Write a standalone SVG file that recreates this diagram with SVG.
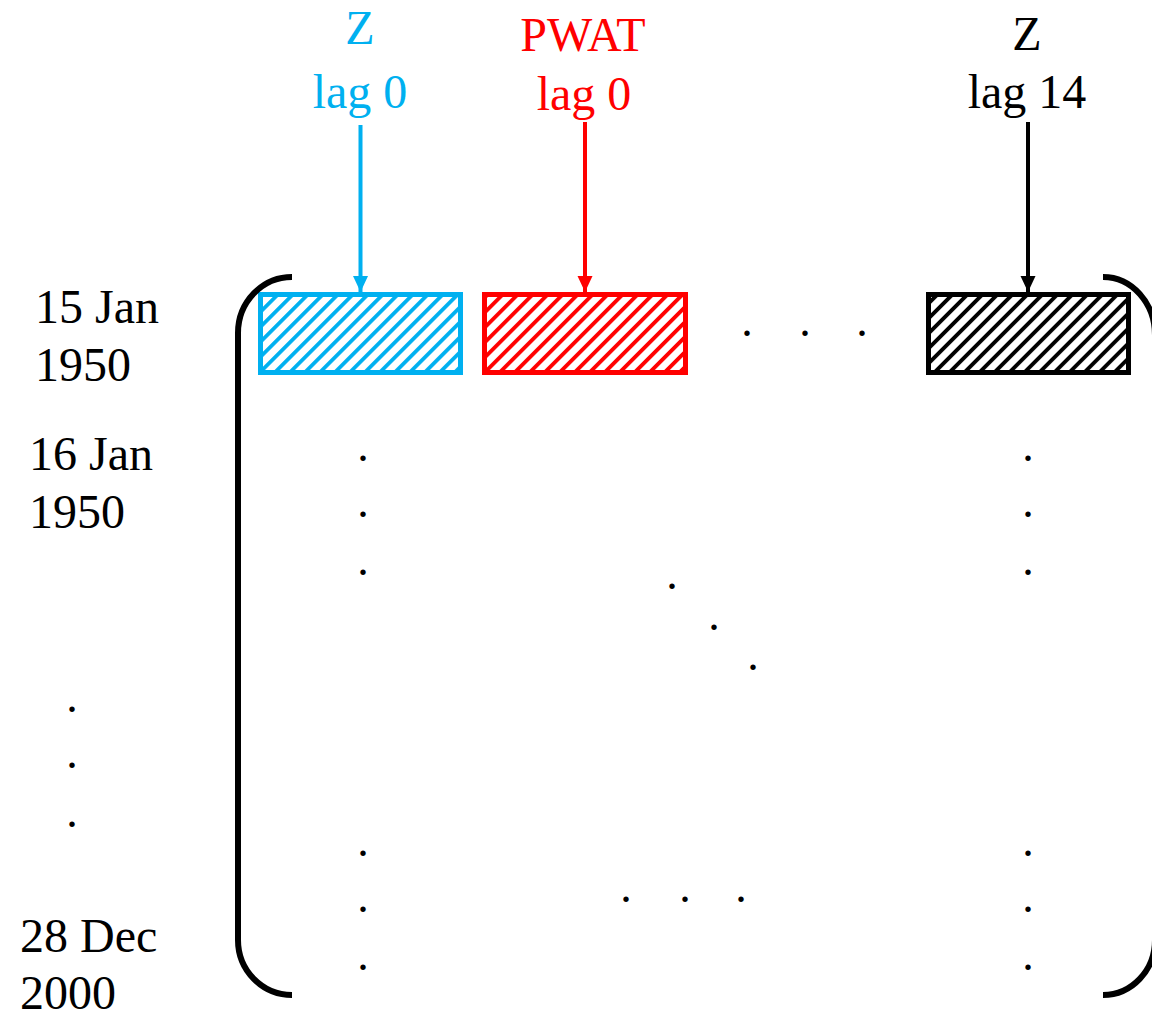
<svg xmlns="http://www.w3.org/2000/svg" width="1152" height="1016" viewBox="0 0 1152 1016">
<style>
text{font-family:"Liberation Serif","Times New Roman",serif;font-size:48px}
.c{text-anchor:middle}
.blue{fill:#00B0F0}.red{fill:#FF0000}.blk{fill:#000}
.dot{font-size:46px;text-anchor:middle;fill:#000}
.br{fill:none;stroke:#000;stroke-width:6;stroke-linecap:butt}
</style>
<defs>
<pattern id="hb" patternUnits="userSpaceOnUse" width="10.6" height="10.6" patternTransform="rotate(45)"><rect width="3.8" height="10.6" fill="#00B0F0"/></pattern>
<pattern id="hr" patternUnits="userSpaceOnUse" width="10.6" height="10.6" patternTransform="rotate(45)"><rect width="3.8" height="10.6" fill="#FF0000"/></pattern>
<pattern id="hk" patternUnits="userSpaceOnUse" width="10.6" height="10.6" patternTransform="rotate(45)"><rect width="3.8" height="10.6" fill="#000"/></pattern>
<marker id="ab" markerUnits="userSpaceOnUse" markerWidth="18" markerHeight="18" refX="16" refY="9" orient="auto"><path d="M0,1.5 L16,9 L0,16.5 z" fill="#00B0F0"/></marker>
<marker id="ar" markerUnits="userSpaceOnUse" markerWidth="18" markerHeight="18" refX="16" refY="9" orient="auto"><path d="M0,1.5 L16,9 L0,16.5 z" fill="#FF0000"/></marker>
<marker id="ak" markerUnits="userSpaceOnUse" markerWidth="18" markerHeight="18" refX="16" refY="9" orient="auto"><path d="M0,1.5 L16,9 L0,16.5 z" fill="#000"/></marker>
</defs>
<rect width="1152" height="1016" fill="#fff"/>

<g id="label-z0">
<text class="c blue" x="360" y="44">Z</text>
<text class="c blue" x="360" y="108">lag 0</text>
</g>
<g id="label-pwat0">
<text class="c red" x="583" y="51">PWAT</text>
<text class="c red" x="584" y="110">lag 0</text>
</g>
<g id="label-z14">
<text class="c blk" x="1027" y="50">Z</text>
<text class="c blk" x="1027" y="108">lag 14</text>
</g>

<g id="connectors">
<line x1="360.5" y1="125" x2="360.5" y2="292" stroke="#00B0F0" stroke-width="4" marker-end="url(#ab)"/>
<line x1="585" y1="122" x2="585" y2="292" stroke="#FF0000" stroke-width="4" marker-end="url(#ar)"/>
<line x1="1028" y1="122" x2="1028" y2="292" stroke="#000" stroke-width="4" marker-end="url(#ak)"/>
</g>

<g id="box-z0"><rect x="260.5" y="294.5" width="200" height="78" fill="url(#hb)" stroke="#00B0F0" stroke-width="5"/></g>
<g id="box-pwat0"><rect x="484.5" y="294.5" width="201" height="78" fill="url(#hr)" stroke="#FF0000" stroke-width="5"/></g>
<g id="box-z14"><rect x="928.5" y="294.5" width="200" height="78" fill="url(#hk)" stroke="#000" stroke-width="5"/></g>

<g id="brackets">
<path class="br" d="M292,277 A54,56 0 0 0 238,333 L238,940 A54,55 0 0 0 292,995"/>
<path class="br" d="M1103,277 A52,58 0 0 1 1155,335 L1155,940 A52,55 0 0 1 1103,995"/>
</g>

<g id="dates">
<text x="35" y="323">15 Jan</text>
<text x="35" y="381">1950</text>
<text x="29" y="470">16 Jan</text>
<text x="29" y="528">1950</text>
<text x="20" y="952">28 Dec</text>
<text x="20" y="1009">2000</text>
</g>

<g id="dots">
<text class="dot" x="747" y="336">.</text>
<text class="dot" x="805" y="336">.</text>
<text class="dot" x="862" y="336">.</text>
<text class="dot" x="363" y="461">.</text>
<text class="dot" x="363" y="517">.</text>
<text class="dot" x="363" y="575">.</text>
<text class="dot" x="363" y="856">.</text>
<text class="dot" x="363" y="912">.</text>
<text class="dot" x="363" y="970">.</text>
<text class="dot" x="1028" y="461">.</text>
<text class="dot" x="1028" y="517">.</text>
<text class="dot" x="1028" y="575">.</text>
<text class="dot" x="1028" y="856">.</text>
<text class="dot" x="1028" y="912">.</text>
<text class="dot" x="1028" y="970">.</text>
<text class="dot" x="672" y="589">.</text>
<text class="dot" x="714" y="630">.</text>
<text class="dot" x="753" y="670">.</text>
<text class="dot" x="626" y="902">.</text>
<text class="dot" x="685" y="902">.</text>
<text class="dot" x="741" y="902">.</text>
<text class="dot" x="72" y="712">.</text>
<text class="dot" x="72" y="768">.</text>
<text class="dot" x="72" y="827">.</text>
</g>
</svg>
